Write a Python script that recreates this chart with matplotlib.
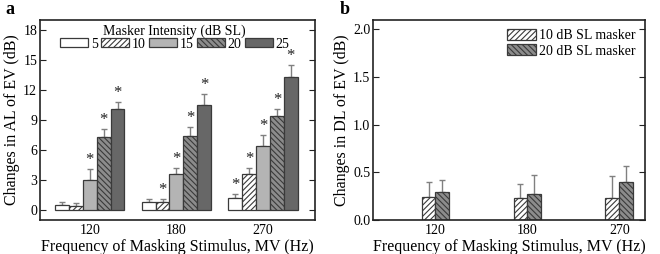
import numpy as np
import matplotlib
matplotlib.use('Agg')
import matplotlib.pyplot as plt

plt.rcParams['font.family'] = ['Liberation Serif', 'DejaVu Serif']
plt.rcParams['hatch.linewidth'] = 0.8

freqs = ['120', '180', '270']

# panel a: change in AL of EV per masker intensity
intensities = ['5', '10', '15', '20', '25']
al_mean = [
    [0.45, 0.75, 1.15],
    [0.35, 0.75, 3.6],
    [3.0, 3.6, 6.4],
    [7.25, 7.4, 9.4],
    [10.1, 10.5, 13.3],
]
al_err = [
    [0.35, 0.35, 0.45],
    [0.3, 0.35, 0.6],
    [1.05, 0.6, 1.05],
    [0.8, 0.85, 0.65],
    [0.7, 1.1, 1.2],
]
al_sig = [
    [False, False, True],
    [False, True, True],
    [True, True, True],
    [True, True, True],
    [True, True, True],
]

# panel b: change in DL of EV
dl_labels = ['10 dB SL masker', '20 dB SL masker']
dl_mean = [
    [0.245, 0.235, 0.235],
    [0.29, 0.27, 0.395],
]
dl_err = [
    [0.155, 0.145, 0.23],
    [0.125, 0.205, 0.175],
]

face_a = ['white', 'white', '#b4b4b4', '#8c8c8c', '#676767']
hatch_a = [None, '//////', None, '\\\\\\\\\\\\', None]
edge = '#3a3a3a'
err_col = '#808080'

fig = plt.figure(figsize=(6.6, 2.54), dpi=100)
ax1 = fig.add_axes([40 / 660, 34 / 254, 275 / 660, 200.5 / 254])
ax2 = fig.add_axes([373 / 660, 34 / 254, 272 / 660, 200.5 / 254])

x = np.arange(len(freqs))
w = 0.16
for i in range(len(intensities)):
    xs = x + (i - 2) * w
    ax1.bar(xs, al_mean[i], w, color=face_a[i], edgecolor=edge, hatch=hatch_a[i],
            linewidth=0.9, label=intensities[i], zorder=2)
    ax1.errorbar(xs, al_mean[i], yerr=[np.zeros(3), al_err[i]], fmt='none',
                 ecolor=err_col, elinewidth=1, capsize=2.5, capthick=1, zorder=1)
    for j in range(3):
        if al_sig[i][j]:
            ax1.text(xs[j], al_mean[i][j] + al_err[i][j] + 0.9, '*', ha='center',
                     va='center', fontsize=12, color='#222222')

ax1.set_xlim(-0.575, 2.6)
ax1.set_ylim(-1, 19)
ax1.set_yticks([0, 3, 6, 9, 12, 15, 18])
ax1.set_xticks(x)
ax1.set_xticklabels(freqs)
ax1.set_ylabel('Changes in AL of EV (dB)', fontsize=11.5, labelpad=2)
ax1.set_xlabel('Frequency of Masking Stimulus, MV (Hz)', fontsize=11.5, labelpad=1)
leg = ax1.legend(loc='upper center', ncol=5, frameon=False, fontsize=10,
                 title='Masker Intensity (dB SL)', title_fontsize=10,
                 handlelength=2.0, handleheight=0.6, handletextpad=0.2,
                 columnspacing=0.25, borderaxespad=0.0, bbox_to_anchor=(0.49, 1.005))
leg._legend_box.sep = 0

face_b = ['white', '#8c8c8c']
hatch_b = ['//////', '\\\\\\\\\\\\']
wb = 0.15
for i in range(2):
    xs = x + (i - 0.5) * wb
    ax2.bar(xs, dl_mean[i], wb, color=face_b[i], edgecolor=edge, hatch=hatch_b[i],
            linewidth=0.9, label=dl_labels[i], zorder=2)
    ax2.errorbar(xs, dl_mean[i], yerr=[np.zeros(3), dl_err[i]], fmt='none',
                 ecolor=err_col, elinewidth=1, capsize=2.5, capthick=1, zorder=1)

ax2.set_xlim(-0.68, 2.28)
ax2.set_ylim(0, 2.1)
ax2.set_yticks([0.0, 0.5, 1.0, 1.5, 2.0])
ax2.set_yticklabels(['0.0', '0.5', '1.0', '1.5', '2.0'])
ax2.set_xticks(x)
ax2.set_xticklabels(freqs)
ax2.set_ylabel('Changes in DL of EV (dB)', fontsize=11.5, labelpad=2)
ax2.set_xlabel('Frequency of Masking Stimulus, MV (Hz)', fontsize=11.5, labelpad=1)
ax2.legend(loc='upper right', frameon=False, fontsize=10, handlelength=2.1,
           handleheight=0.8, handletextpad=0.2, labelspacing=0.15,
           borderaxespad=0.3, bbox_to_anchor=(1.0, 1.0))

for ax in (ax1, ax2):
    for s in ax.spines.values():
        s.set_linewidth(1.2)
        s.set_color('#222222')
    ax.tick_params(axis='y', direction='in', right=True, left=True, length=4,
                   labelsize=10, pad=2, color='#222222')
    ax.tick_params(axis='x', length=0, labelsize=10, pad=3)

fig.text(5 / 660, 1 - 10 / 254, 'a', fontsize=13, fontweight='bold', va='center')
fig.text(340 / 660, 1 - 10 / 254, 'b', fontsize=13, fontweight='bold', va='center')

fig.savefig('out.png', dpi=100)
